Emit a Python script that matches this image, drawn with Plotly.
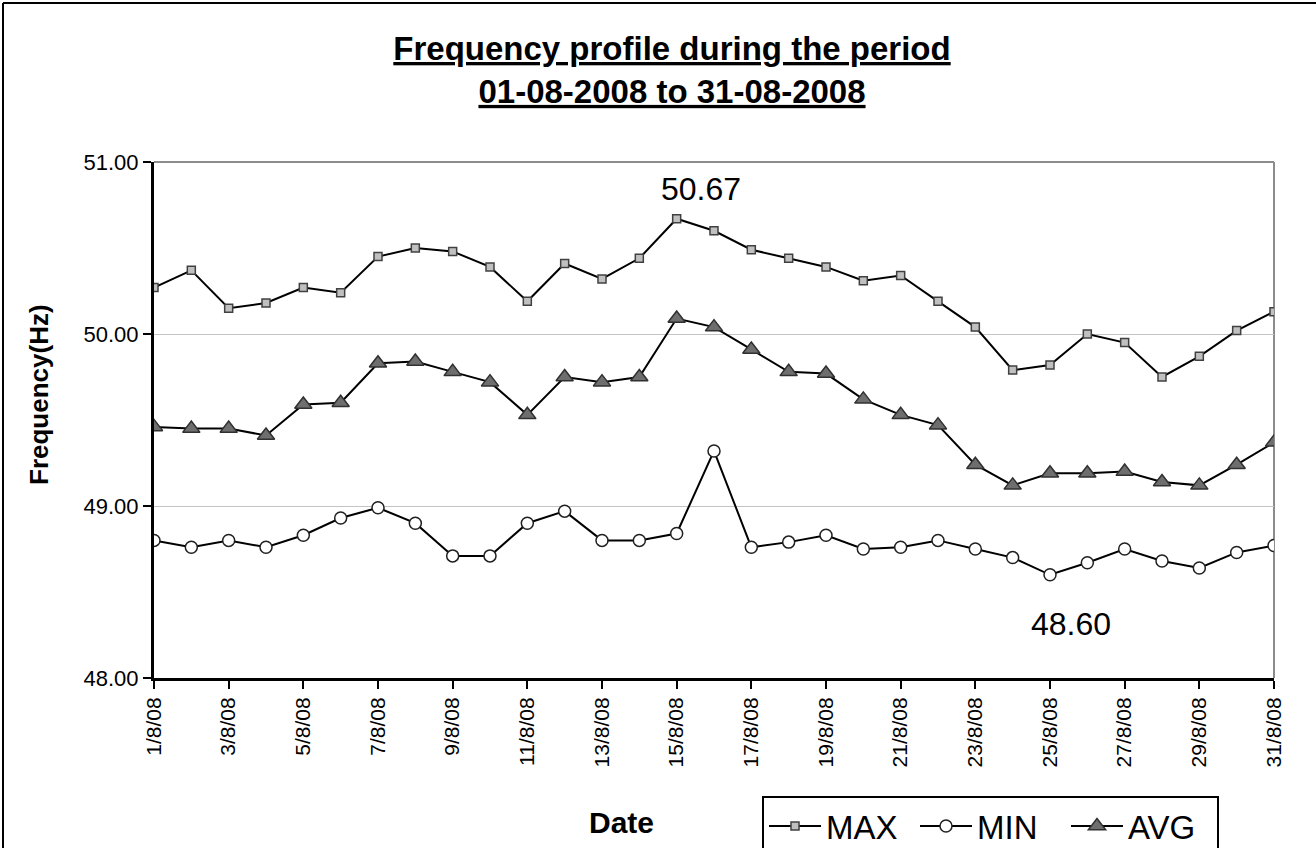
import plotly.graph_objects as go

dates = [f"{d}/8/08" for d in range(1, 32)]
max_vals = [50.27, 50.37, 50.15, 50.18, 50.27, 50.24, 50.45, 50.50, 50.48, 50.39,
            50.19, 50.41, 50.32, 50.44, 50.67, 50.60, 50.49, 50.44, 50.39, 50.31,
            50.34, 50.19, 50.04, 49.79, 49.82, 50.00, 49.95, 49.75, 49.87, 50.02, 50.13]
min_vals = [48.80, 48.76, 48.80, 48.76, 48.83, 48.93, 48.99, 48.90, 48.71, 48.71,
            48.90, 48.97, 48.80, 48.80, 48.84, 49.32, 48.76, 48.79, 48.83, 48.75,
            48.76, 48.80, 48.75, 48.70, 48.60, 48.67, 48.75, 48.68, 48.64, 48.73, 48.77]
avg_vals = [49.46, 49.45, 49.45, 49.41, 49.59, 49.60, 49.83, 49.84, 49.78, 49.72,
            49.53, 49.75, 49.72, 49.75, 50.09, 50.04, 49.91, 49.78, 49.77, 49.62,
            49.53, 49.47, 49.24, 49.12, 49.19, 49.19, 49.20, 49.14, 49.12, 49.24, 49.37]
tick_labels = dates[::2]
y_ticks = [48.0, 49.0, 50.0, 51.0]

FONT = "Liberation Sans, Arial, sans-serif"
W, H = 1316, 848
ML, MR, MT, MB = 154, 42, 162, 170
PW, PH = W - ML - MR, H - MT - MB

def px(xp):
    return (xp - ML) / PW

def py(yp):
    return (H - MB - yp) / PH

fig = go.Figure()
fig.add_trace(go.Scatter(
    x=dates, y=max_vals, name="MAX", mode="lines+markers",
    line=dict(color="black", width=2),
    marker=dict(symbol="square", size=8, color="#c0c0c0", line=dict(color="#404040", width=1.5)),
))
fig.add_trace(go.Scatter(
    x=dates, y=min_vals, name="MIN", mode="lines+markers",
    line=dict(color="black", width=2),
    marker=dict(symbol="circle", size=12, color="white", line=dict(color="#202020", width=1.5)),
))
fig.add_trace(go.Scatter(
    x=dates, y=avg_vals, name="AVG", mode="lines+markers",
    line=dict(color="black", width=2),
    marker=dict(symbol="triangle-up", size=15, color="#6e6e6e", line=dict(color="#303030", width=1.5)),
))

imax = max_vals.index(max(max_vals))
imin = min_vals.index(min(min_vals))
fig.add_annotation(x=dates[imax], y=max(max_vals), text=f"{max(max_vals):.2f}",
                   showarrow=False, yshift=30, xshift=24,
                   font=dict(family=FONT, size=32, color="black"))
fig.add_annotation(x=dates[imin], y=min(min_vals), text=f"{min(min_vals):.2f}",
                   showarrow=False, yshift=-49, xshift=21,
                   font=dict(family=FONT, size=32, color="black"))

# axis titles placed as in the reference
fig.add_annotation(xref="paper", yref="paper", x=px(39), y=py(395),
                   text="<b>Frequency(Hz)</b>", textangle=-90, showarrow=False,
                   xanchor="center", yanchor="middle",
                   font=dict(family=FONT, size=26, color="black"))
fig.add_annotation(xref="paper", yref="paper", x=px(621), y=py(822),
                   text="<b>Date</b>", showarrow=False,
                   xanchor="center", yanchor="middle",
                   font=dict(family=FONT, size=30, color="black"))

fig.update_layout(
    width=W, height=H,
    paper_bgcolor="white", plot_bgcolor="white",
    margin=dict(l=ML, r=MR, t=MT, b=MB, autoexpand=False),
    font=dict(family=FONT, color="black"),
    title=dict(
        text="<b><u>Frequency profile during the period</u></b><br><b><u>01-08-2008 to 31-08-2008</u></b>",
        x=672 / W, xanchor="center", xref="container",
        y=1 - 60 / H, yanchor="middle", yref="container",
        font=dict(family=FONT, size=33, color="black"),
    ),
    showlegend=True,
    legend=dict(
        orientation="h", x=px(762), y=py(796), xanchor="left", yanchor="top",
        bordercolor="black", borderwidth=2, bgcolor="white",
        font=dict(family=FONT, size=33, color="black"),
        entrywidth=84, itemwidth=52, tracegroupgap=0,
    ),
)

fig.update_xaxes(
    type="category", range=[0, 30],
    tickmode="array", tickvals=tick_labels, ticktext=tick_labels,
    tickangle=-90, ticks="outside", ticklen=8, tickwidth=2, tickcolor="black",
    tickfont=dict(family=FONT, size=21, color="black"),
    showline=True, linecolor="black", linewidth=3, mirror=False,
    showgrid=False, zeroline=False,
)
fig.update_yaxes(
    range=[48.0, 51.0], tickmode="array", tickvals=y_ticks,
    ticktext=[f"{v:.2f}" for v in y_ticks],
    ticks="outside", ticklen=8, tickwidth=2, tickcolor="black",
    tickfont=dict(family=FONT, size=22, color="black"),
    showline=True, linecolor="black", linewidth=3,
    showgrid=True, gridcolor="#c4c4c4", gridwidth=1, zeroline=False,
)

# plot area right/top border (grey)
fig.add_shape(type="line", xref="paper", yref="paper", x0=1, x1=1, y0=0, y1=1,
              line=dict(color="#8c8c8c", width=2), layer="below")
fig.add_shape(type="line", xref="paper", yref="paper", x0=0, x1=1, y0=1, y1=1,
              line=dict(color="#8c8c8c", width=2), layer="below")
# outer chart frame (top and left edges visible)
fig.add_shape(type="line", xref="paper", yref="paper",
              x0=px(3), x1=px(W + 5), y0=py(3), y1=py(3),
              line=dict(color="black", width=2))
fig.add_shape(type="line", xref="paper", yref="paper",
              x0=px(3), x1=px(3), y0=py(3), y1=py(H + 5),
              line=dict(color="black", width=2))

fig.write_html("out.html", config={"displayModeBar": False},
               post_script="document.body.style.margin='0';document.body.style.overflow='hidden';")
